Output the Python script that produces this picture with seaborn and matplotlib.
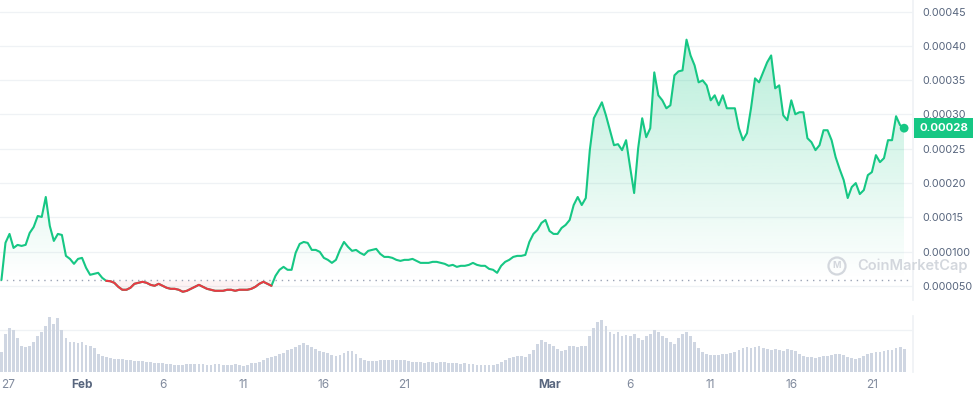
import numpy as np
import pandas as pd
import matplotlib.pyplot as plt
import matplotlib.patches as mpatches
import matplotlib.transforms as mtransforms
from matplotlib.path import Path
from matplotlib.colors import to_rgb
import seaborn as sns

# price every 6 hours, Jan 27 -> Mar 23 (in units of 1e-5 USD)
price_e5 = [
    5.88, 11.3, 12.59, 10.55, 10.99, 10.84, 11.0, 12.73, 13.6, 15.2,
    15.06, 17.97, 13.75, 11.57, 12.59, 12.44, 9.39, 8.95, 8.23, 8.95,
    9.1, 7.65, 6.63, 6.77, 6.92, 6.19, 5.75, 5.7, 5.47, 4.88,
    4.45, 4.45, 4.74, 5.32, 5.47, 5.61, 5.47, 5.17, 5.03, 5.32,
    5.03, 4.74, 4.59, 4.59, 4.45, 4.16, 4.30, 4.59, 4.88, 5.17,
    4.88, 4.59, 4.45, 4.30, 4.30, 4.30, 4.45, 4.45, 4.30, 4.45,
    4.45, 4.45, 4.59, 4.88, 5.32, 5.61, 5.32, 5.03, 6.48, 7.36,
    7.79, 7.36, 7.36, 9.83, 11.13, 11.42, 11.28, 10.26, 10.26, 9.97,
    9.10, 8.81, 8.37, 8.81, 10.26, 11.42, 10.70, 10.12, 10.26, 9.83,
    9.53, 10.12, 10.26, 10.41, 9.68, 9.24, 9.24, 9.10, 8.81, 8.66,
    8.81, 8.81, 8.95, 8.66, 8.37, 8.37, 8.37, 8.52, 8.52, 8.37,
    8.23, 7.94, 8.08, 7.79, 7.94, 7.94, 8.08, 8.37, 8.08, 7.94,
    7.94, 7.50, 7.36, 6.92, 7.94, 8.52, 8.81, 9.24, 9.39, 9.39,
    9.53, 11.42, 12.59, 13.17, 14.19, 14.62, 13.02, 12.59, 12.59, 13.46,
    13.90, 14.62, 16.80, 17.97, 16.80, 17.82, 24.80, 29.45, 30.61, 31.77,
    29.88, 27.70, 25.52, 25.67, 24.80, 26.25, 22.33, 18.55, 25.09, 29.45,
    26.69, 27.99, 36.13, 32.79, 32.06, 30.90, 31.34, 35.70, 36.28, 36.42,
    40.9, 38.60, 37.15, 34.68, 34.97, 34.24, 32.06, 32.79, 31.34, 32.79,
    30.90, 30.90, 30.90, 28.0, 26.25, 27.27, 30.90, 35.26, 34.68, 36.13,
    37.59, 38.60, 33.81, 34.24, 29.88, 29.16, 32.06, 30.03, 30.32, 30.32,
    26.54, 25.96, 24.80, 25.52, 27.70, 27.70, 26.25, 23.78, 22.03, 20.44,
    17.82, 19.42, 20.00, 18.40, 18.98, 21.16, 21.60, 24.07, 23.05, 23.63,
    26.25, 26.25, 29.74, 28.43, 28.0,
]

# volume, same timestamps (relative units, no axis shown)
volume = [
    20, 38, 44, 42, 34, 26, 25, 26, 30, 36,
    40, 46, 55, 48, 54, 42, 34, 30, 30, 29,
    30, 27, 26, 24, 18, 16, 15, 14, 13, 13,
    13, 12, 12, 11, 11, 11, 10, 10, 9, 9,
    9, 8, 8, 7, 7, 7, 8, 8, 8, 8,
    8, 7, 7, 8, 8, 7, 7, 7, 8, 7,
    6, 7, 9, 9, 10, 12, 14, 15, 16, 18,
    19, 22, 23, 25, 27, 29, 27, 25, 23, 21,
    20, 19, 17, 16, 17, 19, 21, 21, 18, 14,
    12, 11, 11, 11, 12, 12, 12, 12, 12, 12,
    12, 11, 10, 10, 10, 9, 10, 10, 9, 10,
    10, 9, 9, 9, 8, 9, 8, 8, 7, 7,
    7, 7, 7, 8, 10, 12, 14, 15, 16, 16,
    15, 18, 22, 28, 32, 30, 28, 26, 23, 21,
    22, 26, 26, 25, 26, 26, 36, 44, 50, 52,
    46, 40, 38, 40, 36, 37, 36, 38, 34, 32,
    36, 38, 42, 40, 36, 34, 30, 28, 34, 38,
    40, 36, 30, 24, 20, 18, 17, 17, 17, 18,
    18, 19, 20, 22, 24, 25, 24, 25, 26, 24,
    23, 22, 23, 22, 21, 23, 22, 21, 18, 16,
    15, 15, 14, 15, 16, 16, 17, 18, 18, 17,
    15, 14, 13, 14, 16, 18, 19, 20, 20, 21,
    22, 22, 24, 25, 23,
]

# x ticks (days after Jan 27)
tick_days = [0, 5, 10, 15, 20, 25, 34, 39, 44, 49, 54]
tick_labels = ["27", "Feb", "6", "11", "16", "21", "Mar", "6", "11", "16", "21"]

price_ticks = [0.00005, 0.0001, 0.00015, 0.0002, 0.00025, 0.0003, 0.00035, 0.0004, 0.00045]
price_tick_labels = ["0.000050", "0.000100", "0.00015", "0.00020", "0.00025",
                     "0.00030", "0.00035", "0.00040", "0.00045"]
last_label = "0.00028"

green = "#16c784"
red = "#ea3943"
grey_text = "#58667e"

sns.set_theme(style="white")
plt.rcParams["font.family"] = ["Inter", "DejaVu Sans"]

day = np.arange(len(price_e5)) * 0.25
price = np.array(price_e5) * 1e-5
base = price[0]
df = pd.DataFrame({"day": day, "price": price, "volume": volume})

fig = plt.figure(figsize=(9.75, 3.96), dpi=100)
ax = fig.add_axes([0, 96 / 396, 913 / 975, 300 / 396])
axv = fig.add_axes([0, 24 / 396, 913 / 975, 56 / 396])

# price line, green then red where below the opening price
sns.lineplot(data=df, x="day", y="price", color=green, lw=1.5, estimator=None,
             sort=False, ax=ax, zorder=4)
below = price < base
runs = np.split(np.arange(len(price)), np.where(np.diff(below.astype(int)) != 0)[0] + 1)
for r in runs:
    if below[r[0]]:
        sns.lineplot(data=df.iloc[r], x="day", y="price", color=red, lw=1.5,
                     estimator=None, sort=False, ax=ax, zorder=4)

# gradient fill under the green part
fill = ax.fill_between(day, price, base, where=price >= base, interpolate=True,
                       facecolor="none", edgecolor="none")
clip = Path.make_compound_path(*fill.get_paths())
grad = np.zeros((256, 1, 4))
grad[..., :3] = to_rgb(green)
grad[:, 0, 3] = np.linspace(0.0, 0.30, 256)
im = ax.imshow(grad, extent=[day[0], day[-1], base, price.max()], origin="lower",
               aspect="auto", zorder=2)
im.set_clip_path(clip, transform=ax.transData)
ax.fill_between(day, price, base, where=price < base, interpolate=True,
                color=red, alpha=0.06, lw=0)

ax.axhline(base, color="#9aa3b5", ls=(0, (1, 3.5)), lw=1.0, zorder=3)
sns.scatterplot(x=[day[-1]], y=[price[-1]], color=green, s=40, edgecolor="none",
                ax=ax, zorder=5)

ax.set_xlim(-0.09, 56.55)
ax.set_ylim(2.96e-5, 4.668e-4)
ax.set_xticks([])
ax.set_xlabel("")
ax.set_ylabel("")
ax.yaxis.tick_right()
ax.set_yticks(price_ticks)
ax.set_yticklabels(price_tick_labels)
ax.tick_params(axis="y", length=0, pad=7, labelsize=7.8, labelcolor=grey_text)
ax.grid(axis="y", color="#eff2f5", lw=0.9)
ax.grid(axis="x", visible=False)
for s in ["top", "left", "bottom"]:
    ax.spines[s].set_visible(False)
ax.spines["right"].set_color("#eff2f5")

# last price badge
trans = mtransforms.blended_transform_factory(ax.transAxes, ax.transData)
ax.annotate(last_label, xy=(1.0, price[-1]), xycoords=trans, xytext=(4.5, 0),
            textcoords="offset points", ha="left", va="center", color="white",
            fontsize=8.2, fontweight="bold", annotation_clip=False,
            bbox=dict(boxstyle="square,pad=0.45", fc=green, ec="none"))

# volume bars
sns.barplot(data=df, x="day", y="volume", native_scale=True, color="#cfd6e2",
            saturation=1, width=0.7, errorbar=None, linewidth=0, ax=axv)
axv.axhline(42, color="#eff2f5", lw=0.9, zorder=0)
axv.set_xlim(-0.09, 56.55)
axv.set_ylim(0, 56)
axv.set_yticks([])
axv.set_xlabel("")
axv.set_ylabel("")
axv.set_xticks(tick_days)
axv.set_xticklabels(tick_labels)
axv.tick_params(axis="x", length=0, pad=5, labelsize=8.5, labelcolor="#808a9d")
for lab in axv.get_xticklabels():
    if lab.get_text() in ("Feb", "Mar"):
        lab.set_fontweight("bold")
        lab.set_color(grey_text)
axv.get_xticklabels()[0].set_ha("left")
for s in ["top", "left", "bottom"]:
    axv.spines[s].set_visible(False)
axv.spines["right"].set_color("#eff2f5")

# watermark
wm = "#d3d7dd"
fig.text(857 / 975, 1 - 266 / 396, "CoinMarketCap", fontsize=10.5, fontweight="semibold",
         color=wm, ha="left", va="center", zorder=0)
fig.add_artist(mpatches.Circle((8.37, 1.30), 0.085, transform=fig.dpi_scale_trans,
                               fill=False, ec=wm, lw=1.6))
fig.text(837 / 975, 1 - 266 / 396, "M", fontsize=6.5, fontweight="bold",
         color=wm, ha="center", va="center")

fig.savefig("out.png", dpi=100)
